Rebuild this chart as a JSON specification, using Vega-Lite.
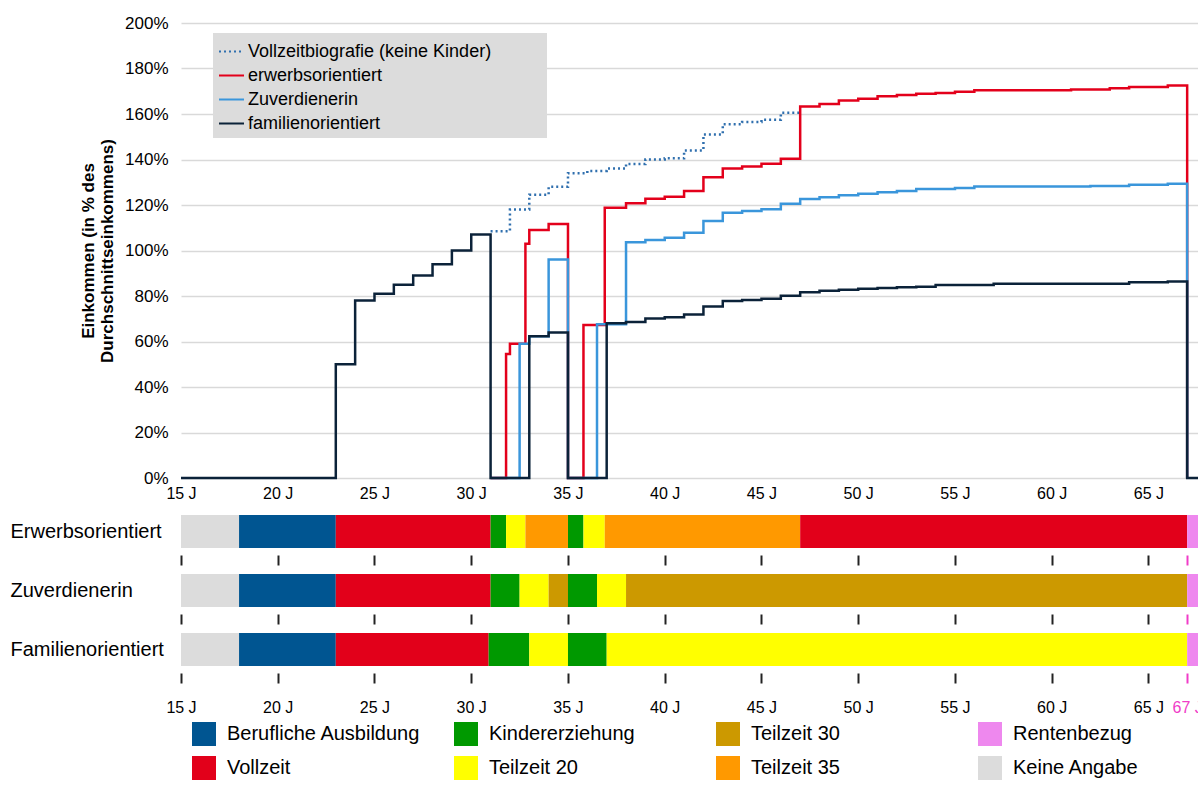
{
  "$schema": "https://vega.github.io/schema/vega-lite/v6.json",
  "background": "white",
  "padding": {"left": 10, "top": 14, "right": 0, "bottom": 0},
  "config": {
    "view": {"stroke": null},
    "font": "Liberation Sans",
    "axis": {"labelColor": "#000", "titleColor": "#000", "labelFont": "Liberation Sans", "titleFont": "Liberation Sans"},
    "legend": {"labelFont": "Liberation Sans", "labelColor": "#000"}
  },
  "datasets": {
    "income": [
      {"series": "Vollzeitbiografie (keine Kinder)", "age": 31, "value": 108.5},
      {"series": "Vollzeitbiografie (keine Kinder)", "age": 32, "value": 118},
      {"series": "Vollzeitbiografie (keine Kinder)", "age": 33, "value": 124.5},
      {"series": "Vollzeitbiografie (keine Kinder)", "age": 34, "value": 128},
      {"series": "Vollzeitbiografie (keine Kinder)", "age": 35, "value": 134},
      {"series": "Vollzeitbiografie (keine Kinder)", "age": 36, "value": 135},
      {"series": "Vollzeitbiografie (keine Kinder)", "age": 37, "value": 136},
      {"series": "Vollzeitbiografie (keine Kinder)", "age": 38, "value": 138},
      {"series": "Vollzeitbiografie (keine Kinder)", "age": 39, "value": 140},
      {"series": "Vollzeitbiografie (keine Kinder)", "age": 40, "value": 140.5},
      {"series": "Vollzeitbiografie (keine Kinder)", "age": 41, "value": 144},
      {"series": "Vollzeitbiografie (keine Kinder)", "age": 42, "value": 151},
      {"series": "Vollzeitbiografie (keine Kinder)", "age": 43, "value": 155.5},
      {"series": "Vollzeitbiografie (keine Kinder)", "age": 44, "value": 156.5},
      {"series": "Vollzeitbiografie (keine Kinder)", "age": 45, "value": 157.5},
      {"series": "Vollzeitbiografie (keine Kinder)", "age": 46, "value": 160.5},
      {"series": "Vollzeitbiografie (keine Kinder)", "age": 47, "value": 160.5},
      {"series": "erwerbsorientiert", "age": 31, "value": 0},
      {"series": "erwerbsorientiert", "age": 31.8, "value": 54.5},
      {"series": "erwerbsorientiert", "age": 32, "value": 59},
      {"series": "erwerbsorientiert", "age": 32.8, "value": 103},
      {"series": "erwerbsorientiert", "age": 33, "value": 109},
      {"series": "erwerbsorientiert", "age": 34, "value": 111.7},
      {"series": "erwerbsorientiert", "age": 35, "value": 0},
      {"series": "erwerbsorientiert", "age": 35.8, "value": 67.2},
      {"series": "erwerbsorientiert", "age": 36.9, "value": 118.8},
      {"series": "erwerbsorientiert", "age": 38, "value": 120.8},
      {"series": "erwerbsorientiert", "age": 39, "value": 122.7},
      {"series": "erwerbsorientiert", "age": 40, "value": 123.6},
      {"series": "erwerbsorientiert", "age": 41, "value": 126.2},
      {"series": "erwerbsorientiert", "age": 42, "value": 132.2},
      {"series": "erwerbsorientiert", "age": 43, "value": 136},
      {"series": "erwerbsorientiert", "age": 44, "value": 136.9},
      {"series": "erwerbsorientiert", "age": 45, "value": 138.1},
      {"series": "erwerbsorientiert", "age": 46, "value": 140.3},
      {"series": "erwerbsorientiert", "age": 47, "value": 163.3},
      {"series": "erwerbsorientiert", "age": 48, "value": 164.4},
      {"series": "erwerbsorientiert", "age": 49, "value": 165.9},
      {"series": "erwerbsorientiert", "age": 50, "value": 166.7},
      {"series": "erwerbsorientiert", "age": 51, "value": 167.8},
      {"series": "erwerbsorientiert", "age": 52, "value": 168.3},
      {"series": "erwerbsorientiert", "age": 53, "value": 168.9},
      {"series": "erwerbsorientiert", "age": 54, "value": 169.2},
      {"series": "erwerbsorientiert", "age": 55, "value": 169.8},
      {"series": "erwerbsorientiert", "age": 56, "value": 170.4},
      {"series": "erwerbsorientiert", "age": 61, "value": 170.8},
      {"series": "erwerbsorientiert", "age": 63, "value": 171.3},
      {"series": "erwerbsorientiert", "age": 64, "value": 171.9},
      {"series": "erwerbsorientiert", "age": 66, "value": 172.5},
      {"series": "erwerbsorientiert", "age": 67, "value": 0},
      {"series": "Zuverdienerin", "age": 31, "value": 0},
      {"series": "Zuverdienerin", "age": 32.5, "value": 59},
      {"series": "Zuverdienerin", "age": 33, "value": 62.3},
      {"series": "Zuverdienerin", "age": 34, "value": 96},
      {"series": "Zuverdienerin", "age": 35, "value": 0},
      {"series": "Zuverdienerin", "age": 36.5, "value": 67.6},
      {"series": "Zuverdienerin", "age": 38, "value": 103.6},
      {"series": "Zuverdienerin", "age": 39, "value": 104.6},
      {"series": "Zuverdienerin", "age": 40, "value": 105.6},
      {"series": "Zuverdienerin", "age": 41, "value": 107.8},
      {"series": "Zuverdienerin", "age": 42, "value": 113},
      {"series": "Zuverdienerin", "age": 43, "value": 116.6},
      {"series": "Zuverdienerin", "age": 44, "value": 117.4},
      {"series": "Zuverdienerin", "age": 45, "value": 118.1},
      {"series": "Zuverdienerin", "age": 46, "value": 120.5},
      {"series": "Zuverdienerin", "age": 47, "value": 122.6},
      {"series": "Zuverdienerin", "age": 48, "value": 123.4},
      {"series": "Zuverdienerin", "age": 49, "value": 124.3},
      {"series": "Zuverdienerin", "age": 50, "value": 125},
      {"series": "Zuverdienerin", "age": 51, "value": 125.6},
      {"series": "Zuverdienerin", "age": 52, "value": 126.2},
      {"series": "Zuverdienerin", "age": 53, "value": 127},
      {"series": "Zuverdienerin", "age": 55, "value": 127.5},
      {"series": "Zuverdienerin", "age": 56, "value": 128.1},
      {"series": "Zuverdienerin", "age": 62, "value": 128.4},
      {"series": "Zuverdienerin", "age": 64, "value": 128.9},
      {"series": "Zuverdienerin", "age": 66, "value": 129.3},
      {"series": "Zuverdienerin", "age": 67, "value": 0},
      {"series": "familienorientiert", "age": 15, "value": 0},
      {"series": "familienorientiert", "age": 23, "value": 50},
      {"series": "familienorientiert", "age": 24, "value": 78},
      {"series": "familienorientiert", "age": 25, "value": 81},
      {"series": "familienorientiert", "age": 26, "value": 85},
      {"series": "familienorientiert", "age": 27, "value": 89},
      {"series": "familienorientiert", "age": 28, "value": 94},
      {"series": "familienorientiert", "age": 29, "value": 100},
      {"series": "familienorientiert", "age": 30, "value": 107},
      {"series": "familienorientiert", "age": 31, "value": 0},
      {"series": "familienorientiert", "age": 33, "value": 62.3},
      {"series": "familienorientiert", "age": 34, "value": 64},
      {"series": "familienorientiert", "age": 35, "value": 0},
      {"series": "familienorientiert", "age": 37, "value": 68},
      {"series": "familienorientiert", "age": 38, "value": 68.6},
      {"series": "familienorientiert", "age": 39, "value": 70.1},
      {"series": "familienorientiert", "age": 40, "value": 70.7},
      {"series": "familienorientiert", "age": 41, "value": 71.9},
      {"series": "familienorientiert", "age": 42, "value": 75.4},
      {"series": "familienorientiert", "age": 43, "value": 77.8},
      {"series": "familienorientiert", "age": 44, "value": 78.2},
      {"series": "familienorientiert", "age": 45, "value": 78.8},
      {"series": "familienorientiert", "age": 46, "value": 80.1},
      {"series": "familienorientiert", "age": 47, "value": 81.6},
      {"series": "familienorientiert", "age": 48, "value": 82.3},
      {"series": "familienorientiert", "age": 49, "value": 82.7},
      {"series": "familienorientiert", "age": 50, "value": 83.2},
      {"series": "familienorientiert", "age": 51, "value": 83.5},
      {"series": "familienorientiert", "age": 52, "value": 83.8},
      {"series": "familienorientiert", "age": 53, "value": 84.1},
      {"series": "familienorientiert", "age": 54, "value": 84.8},
      {"series": "familienorientiert", "age": 57, "value": 85.4},
      {"series": "familienorientiert", "age": 64, "value": 86},
      {"series": "familienorientiert", "age": 66, "value": 86.4},
      {"series": "familienorientiert", "age": 67, "value": 0},
      {"series": "familienorientiert", "age": 67.56, "value": 0}
    ],
    "phases": [
      {"row": "Erwerbsorientiert", "status": "Keine Angabe", "start": 15, "end": 18},
      {"row": "Erwerbsorientiert", "status": "Berufliche Ausbildung", "start": 18, "end": 23},
      {"row": "Erwerbsorientiert", "status": "Vollzeit", "start": 23, "end": 31},
      {"row": "Erwerbsorientiert", "status": "Kindererziehung", "start": 31, "end": 31.8},
      {"row": "Erwerbsorientiert", "status": "Teilzeit 20", "start": 31.8, "end": 32.8},
      {"row": "Erwerbsorientiert", "status": "Teilzeit 35", "start": 32.8, "end": 35},
      {"row": "Erwerbsorientiert", "status": "Kindererziehung", "start": 35, "end": 35.8},
      {"row": "Erwerbsorientiert", "status": "Teilzeit 20", "start": 35.8, "end": 36.9},
      {"row": "Erwerbsorientiert", "status": "Teilzeit 35", "start": 36.9, "end": 47},
      {"row": "Erwerbsorientiert", "status": "Vollzeit", "start": 47, "end": 67},
      {"row": "Erwerbsorientiert", "status": "Rentenbezug", "start": 67, "end": 67.56},
      {"row": "Zuverdienerin", "status": "Keine Angabe", "start": 15, "end": 18},
      {"row": "Zuverdienerin", "status": "Berufliche Ausbildung", "start": 18, "end": 23},
      {"row": "Zuverdienerin", "status": "Vollzeit", "start": 23, "end": 31},
      {"row": "Zuverdienerin", "status": "Kindererziehung", "start": 31, "end": 32.5},
      {"row": "Zuverdienerin", "status": "Teilzeit 20", "start": 32.5, "end": 34},
      {"row": "Zuverdienerin", "status": "Teilzeit 30", "start": 34, "end": 35},
      {"row": "Zuverdienerin", "status": "Kindererziehung", "start": 35, "end": 36.5},
      {"row": "Zuverdienerin", "status": "Teilzeit 20", "start": 36.5, "end": 38},
      {"row": "Zuverdienerin", "status": "Teilzeit 30", "start": 38, "end": 67},
      {"row": "Zuverdienerin", "status": "Rentenbezug", "start": 67, "end": 67.56},
      {"row": "Familienorientiert", "status": "Keine Angabe", "start": 15, "end": 18},
      {"row": "Familienorientiert", "status": "Berufliche Ausbildung", "start": 18, "end": 23},
      {"row": "Familienorientiert", "status": "Vollzeit", "start": 23, "end": 30.9},
      {"row": "Familienorientiert", "status": "Kindererziehung", "start": 30.9, "end": 33},
      {"row": "Familienorientiert", "status": "Teilzeit 20", "start": 33, "end": 35},
      {"row": "Familienorientiert", "status": "Kindererziehung", "start": 35, "end": 37},
      {"row": "Familienorientiert", "status": "Teilzeit 20", "start": 37, "end": 67},
      {"row": "Familienorientiert", "status": "Rentenbezug", "start": 67, "end": 67.56}
    ]
  },
  "spacing": 8,
  "resolve": {
    "scale": {"stroke": "independent", "strokeDash": "independent", "fill": "shared"},
    "legend": {"fill": "shared"}
  },
  "vconcat": [
    {
      "width": 1017,
      "height": 455,
      "data": {"name": "income"},
      "mark": {"type": "line", "interpolate": "step-after", "strokeWidth": 2.5},
      "encoding": {
        "x": {
          "field": "age", "type": "quantitative",
          "scale": {"domain": [15, 67.56], "nice": false, "zero": false},
          "axis": {
            "values": [15, 20, 25, 30, 35, 40, 45, 50, 55, 60, 65],
            "labelExpr": "datum.value + ' J'",
            "ticks": false, "domain": false, "grid": false, "labelFlush": false,
            "labelFontSize": 16, "labelPadding": 7,
            "title": "x", "titleOpacity": 0, "titleFontSize": 6, "titlePadding": 0
          }
        },
        "y": {
          "field": "value", "type": "quantitative",
          "scale": {"domain": [0, 200], "nice": false},
          "axis": {
            "values": [0, 20, 40, 60, 80, 100, 120, 140, 160, 180, 200],
            "labelExpr": "datum.value + '%'",
            "ticks": false, "domain": false, "grid": true,
            "gridColor": "#D9D9D9", "gridWidth": 1.5,
            "labelFontSize": 17, "labelPadding": 13,
            "title": ["Einkommen (in % des", "Durchschnittseinkommens)"],
            "titleFontSize": 17, "titleFontWeight": "bold", "titlePadding": 8
          }
        },
        "stroke": {
          "field": "series", "type": "nominal",
          "scale": {
            "domain": ["Vollzeitbiografie (keine Kinder)", "erwerbsorientiert", "Zuverdienerin", "familienorientiert"],
            "range": ["#2F6FAE", "#E3001B", "#3A96DB", "#0B2239"]
          },
          "legend": {
            "title": "MMM", "titleOrient": "right", "titleOpacity": 0, "titleFontSize": 18, "titlePadding": 6,
            "orient": "none", "legendX": 32, "legendY": 10,
            "fillColor": "#DCDCDC", "padding": 5,
            "symbolType": "stroke", "symbolSize": 625, "symbolStrokeWidth": 2,
            "labelFontSize": 18, "labelOffset": 3, "rowPadding": 1, "labelLimit": 500
          }
        },
        "strokeDash": {
          "field": "series", "type": "nominal",
          "scale": {
            "domain": ["Vollzeitbiografie (keine Kinder)", "erwerbsorientiert", "Zuverdienerin", "familienorientiert"],
            "range": [[2, 3], [1, 0], [1, 0], [1, 0]]
          },
          "legend": {
            "title": "MMM", "titleOrient": "right", "titleOpacity": 0, "titleFontSize": 18, "titlePadding": 6,
            "orient": "none", "legendX": 32, "legendY": 10,
            "fillColor": "#DCDCDC", "padding": 5,
            "symbolType": "stroke", "symbolSize": 625, "symbolStrokeWidth": 2,
            "labelFontSize": 18, "labelOffset": 3, "rowPadding": 1, "labelLimit": 500
          }
        }
      }
    },
    {
      "width": 1017,
      "height": 33,
      "data": {"name": "phases"},
      "transform": [{"filter": "datum.row === 'Erwerbsorientiert'"}],
      "mark": {"type": "bar"},
      "encoding": {
        "x": {
          "field": "start", "type": "quantitative",
          "scale": {"domain": [15, 67.56], "nice": false, "zero": false},
          "axis": {
            "values": [15, 20, 25, 30, 35, 40, 45, 50, 55, 60, 65, 67],
            "labels": false, "domain": false, "grid": false,
            "ticks": true, "tickSize": 10, "tickWidth": 2, "offset": 7,
            "tickColor": {"condition": {"test": "datum.value == 67", "value": "#F03CC8"}, "value": "#222222"},
            "title": null
          }
        },
        "x2": {"field": "end"},
        "y": {
          "field": "row", "type": "nominal",
          "scale": {"paddingInner": 0, "paddingOuter": 0},
          "axis": {"title": null, "ticks": false, "domain": false, "labelAlign": "left", "labelPadding": 171, "labelFontSize": 20, "labelLimit": 300}
        },
        "fill": {
          "field": "status", "type": "nominal",
          "scale": {
            "domain": ["Berufliche Ausbildung", "Kindererziehung", "Teilzeit 30", "Rentenbezug", "Vollzeit", "Teilzeit 20", "Teilzeit 35", "Keine Angabe"],
            "range": ["#005591", "#009900", "#CC9900", "#EE88EE", "#E2001A", "#FFFF00", "#FF9900", "#DCDCDC"]
          },
          "legend": {
            "title": null, "orient": "none", "legendX": 11, "legendY": 699,
            "direction": "horizontal", "columns": 4, "gridAlign": "all",
            "symbolType": "square", "symbolSize": 576, "symbolStrokeWidth": 0,
            "labelFontSize": 20, "labelOffset": 11, "rowPadding": 10, "columnPadding": 33, "labelLimit": 400
          }
        }
      }
    },
    {
      "width": 1017,
      "height": 33,
      "data": {"name": "phases"},
      "transform": [{"filter": "datum.row === 'Zuverdienerin'"}],
      "mark": {"type": "bar"},
      "encoding": {
        "x": {
          "field": "start", "type": "quantitative",
          "scale": {"domain": [15, 67.56], "nice": false, "zero": false},
          "axis": {
            "values": [15, 20, 25, 30, 35, 40, 45, 50, 55, 60, 65, 67],
            "labels": false, "domain": false, "grid": false,
            "ticks": true, "tickSize": 10, "tickWidth": 2, "offset": 7,
            "tickColor": {"condition": {"test": "datum.value == 67", "value": "#F03CC8"}, "value": "#222222"},
            "title": null
          }
        },
        "x2": {"field": "end"},
        "y": {
          "field": "row", "type": "nominal",
          "scale": {"paddingInner": 0, "paddingOuter": 0},
          "axis": {"title": null, "ticks": false, "domain": false, "labelAlign": "left", "labelPadding": 171, "labelFontSize": 20, "labelLimit": 300}
        },
        "fill": {"field": "status", "type": "nominal"}
      }
    },
    {
      "width": 1017,
      "height": 33,
      "data": {"name": "phases"},
      "transform": [{"filter": "datum.row === 'Familienorientiert'"}],
      "mark": {"type": "bar"},
      "encoding": {
        "x": {
          "field": "start", "type": "quantitative",
          "scale": {"domain": [15, 67.56], "nice": false, "zero": false},
          "axis": {
            "values": [15, 20, 25, 30, 35, 40, 45, 50, 55, 60, 65, 67],
            "labelExpr": "datum.value + ' J'",
            "labelFontSize": 16, "labelPadding": 16, "labelOverlap": false, "labelBound": false, "labelFlush": false,
            "labelColor": {"condition": {"test": "datum.value == 67", "value": "#F03CC8"}, "value": "#000000"},
            "domain": false, "grid": false,
            "ticks": true, "tickSize": 10, "tickWidth": 2, "offset": 7,
            "tickColor": {"condition": {"test": "datum.value == 67", "value": "#F03CC8"}, "value": "#222222"},
            "title": null
          }
        },
        "x2": {"field": "end"},
        "y": {
          "field": "row", "type": "nominal",
          "scale": {"paddingInner": 0, "paddingOuter": 0},
          "axis": {"title": null, "ticks": false, "domain": false, "labelAlign": "left", "labelPadding": 171, "labelFontSize": 20, "labelLimit": 300}
        },
        "fill": {"field": "status", "type": "nominal"}
      }
    }
  ]
}
